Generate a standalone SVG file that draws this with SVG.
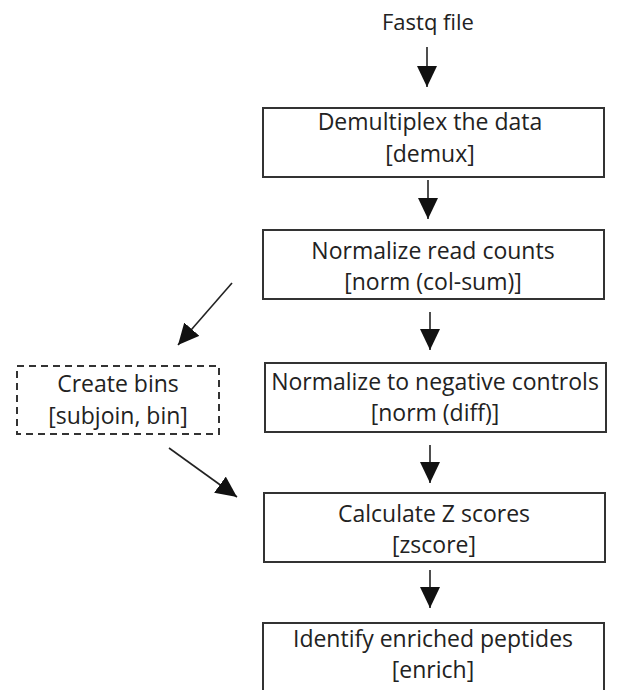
<svg xmlns="http://www.w3.org/2000/svg" width="618" height="690" viewBox="0 0 618 690">
<defs>
<style>
.box{fill:#fff;stroke:#333;stroke-width:2}
.dash{fill:#fff;stroke:#333;stroke-width:2;stroke-dasharray:7,5}
.t{font-family:"Open Sans","Noto Sans",sans-serif;font-size:23px;fill:#222;text-anchor:middle}
.c{stroke:#222;stroke-width:1.6;fill:none;marker-end:url(#ah)}
</style>
<marker id="ah" markerUnits="userSpaceOnUse" markerWidth="22" markerHeight="20" refX="21" refY="10" orient="auto">
<path d="M0,0 L21,10 L0,20 z" fill="#111"/>
</marker>
</defs>
<rect width="618" height="690" fill="#fff"/>
<g id="fastq"><text class="t" x="428" y="30" style="font-size:22px">Fastq file</text></g>
<g id="demux"><rect class="box" x="263" y="108" width="341" height="69"/>
<text class="t" x="430" y="130">Demultiplex the data</text><text class="t" x="430" y="162">[demux]</text></g>
<g id="normcol"><rect class="box" x="263" y="230" width="341" height="69"/>
<text class="t" x="433" y="259">Normalize read counts</text><text class="t" x="433" y="290">[norm (col-sum)]</text></g>
<g id="normdiff"><rect class="box" x="265" y="363" width="341" height="69"/>
<text class="t" x="435" y="390">Normalize to negative controls</text><text class="t" x="435" y="421">[norm (diff)]</text></g>
<g id="bins"><rect class="dash" x="17" y="366" width="202" height="68"/>
<text class="t" x="118" y="392">Create bins</text><text class="t" x="118" y="424">[subjoin, bin]</text></g>
<g id="zscore"><rect class="box" x="264" y="493" width="341" height="69"/>
<text class="t" x="434" y="522">Calculate Z scores</text><text class="t" x="434" y="553">[zscore]</text></g>
<g id="enrich"><rect class="box" x="263" y="623" width="341" height="80"/>
<text class="t" x="433" y="647">Identify enriched peptides</text><text class="t" x="433" y="678">[enrich]</text></g>
<g id="connectors">
<path class="c" d="M427,47 L427,87"/>
<path class="c" d="M428,180 L428,219"/>
<path class="c" d="M430,312 L430,350"/>
<path class="c" d="M430,445 L430,483"/>
<path class="c" d="M430,570 L430,608"/>
<path class="c" d="M232,283 L178,345"/>
<path class="c" d="M169,448 L237,497"/>
</g>
</svg>
